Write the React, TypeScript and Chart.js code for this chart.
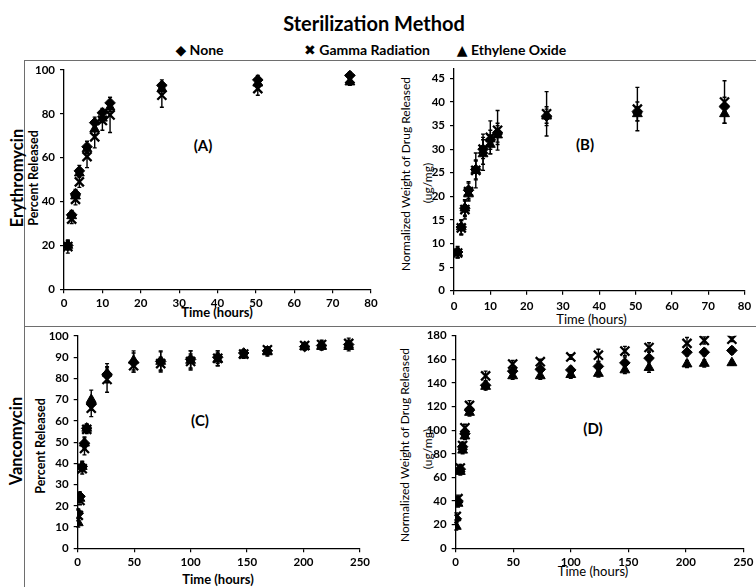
import React, { useEffect, useRef } from "react";
import { Chart, registerables } from "chart.js";

Chart.register(...registerables);

const FONT = "Lato, 'DejaVu Sans', sans-serif";
const PAGE_W = 756;
const PAGE_H = 587;

// ---------- Erythromycin ----------
const eryHours = [1, 2, 3, 4, 6, 8, 10, 12, 25.5, 50.5, 74.5];

// (A) Percent released
const eryPctNone = [20, 34, 43.5, 54, 65, 76, 80.5, 85, 93, 95.5, 97.5];
const eryPctGamma = [19.5, 32, 41, 49, 60.5, 69.5, 77, 79.5, 88.5, 91.5, 96];
const eryPctEO = [20, 33.5, 42.5, 53, 64, 73, 78, 83, 91.5, 94, 94.5];
const eryPctErrNone = [2, 2, 2, 2.5, 2.5, 2.5, 2, 2.5, 2.5, 2, 1.5];
const eryPctErrGamma = [3, 2, 2.5, 2.5, 5, 5, 4.5, 8, 5.5, 3, 2];
const eryPctErrEO = [2, 2, 2, 2, 2, 2.5, 2, 2, 2.5, 2, 1.5];

// (B) Normalized weight released (ug/mg)
const eryWtNone = [8.2, 13.5, 17.5, 21.3, 25.7, 30, 32, 33.5, 37, 38, 39];
const eryWtGamma = [8, 13.3, 17.2, 21, 25.5, 30, 32.5, 34, 37.5, 38.5, 40];
const eryWtEO = [8, 13.5, 17.5, 20.5, 25.5, 29, 31, 33, 37, 37.5, 37.5];
const eryWtErrNone = [1.2, 1.5, 1.5, 1.8, 2, 2, 2, 2, 2, 2, 2];
const eryWtErrGamma = [1, 1.5, 2, 1.8, 3.7, 3.2, 3.5, 4.2, 4.7, 4.6, 4.5];
const eryWtErrEO = [1, 1.5, 1.8, 1.5, 2, 3.5, 2, 2, 1.5, 1.5, 2];

// ---------- Vancomycin ----------
const vanHours = [0.5, 2, 4, 6, 8, 12, 26, 49.5, 73.5, 100, 124, 147, 168, 201, 216, 240];

// (C) Percent released
const vanPctNone = [16.5, 24.5, 38.5, 49.5, 56.5, 68, 82, 87.5, 88, 89, 90, 92, 93, 95, 95.5, 96];
const vanPctGamma = [15.5, 22.5, 37.5, 47, 56, 66, 79.5, 86, 87, 88, 89.5, 91.5, 93.5, 95.5, 96, 96.5];
const vanPctEO = [12, 23.5, 38.5, 49.5, 56.5, 70, 82.5, 88.5, 88, 88.5, 89, 91, 92.5, 95, 95, 95];
const vanPctErrNone = [2, 2, 2.5, 3, 2, 3, 3, 4.5, 4.5, 4, 3, 1.5, 2, 1.5, 2, 2];
const vanPctErrGamma = [2.5, 2, 2.5, 3, 2, 4, 6, 3, 3, 3.5, 3.5, 1.5, 1.5, 1.5, 2, 2.5];
const vanPctErrEO = [2, 2, 2, 2.5, 2, 4.5, 4.5, 4.5, 5, 4.5, 3, 1.5, 2, 1.5, 1.5, 2];

// (D) Normalized weight released (ug/mg)
const vanWtNone = [25, 40, 67, 86, 97, 117, 138, 150, 151.5, 151, 154, 157, 161, 166, 166, 167.5];
const vanWtGamma = [27, 42, 68, 87, 102, 121, 146, 156, 158, 162, 163.5, 167, 170, 173.5, 176, 177];
const vanWtEO = [18.5, 38, 65, 83, 95, 115, 137, 146, 146, 147, 148, 151, 153, 156, 156.5, 157];
const vanWtErrNone = [3, 3, 3, 3, 3, 3, 3, 3, 2.5, 3, 4, 5, 6, 3, 3, 3];
const vanWtErrGamma = [3, 3, 3, 3, 3, 4, 4, 3, 2, 2, 5, 4, 4, 5, 3, 2];
const vanWtErrEO = [3, 3, 3, 3, 3, 3, 3, 3, 3, 3, 3, 3, 4, 3, 3, 2];

// ---------- Axis settings ----------
const eryXTicks = { max: 80, step: 10 };
const vanXTicks = { max: 250, step: 50 };
const pctAYTicks = { max: 100, step: 20 };
const wtBYTicks = { max: 47, step: 5 };
const pctCYTicks = { max: 100, step: 10 };
const wtDYTicks = { max: 180, step: 20 };

interface Area { left: number; top: number; right: number; bottom: number }
interface PanelCfg {
  hours: number[];
  series: { values: number[]; errors: number[]; kind: "none" | "gamma" | "eo" }[];
  xt: { max: number; step: number };
  yt: { max: number; step: number };
  area: Area;
  xLabelPad: number;
}

const panels: PanelCfg[] = [
  {
    hours: eryHours,
    series: [
      { values: eryPctNone, errors: eryPctErrNone, kind: "none" },
      { values: eryPctGamma, errors: eryPctErrGamma, kind: "gamma" },
      { values: eryPctEO, errors: eryPctErrEO, kind: "eo" },
    ],
    xt: eryXTicks,
    yt: pctAYTicks,
    area: { left: 64, top: 70, right: 371, bottom: 289.3 },
    xLabelPad: 3.5,
  },
  {
    hours: eryHours,
    series: [
      { values: eryWtNone, errors: eryWtErrNone, kind: "none" },
      { values: eryWtGamma, errors: eryWtErrGamma, kind: "gamma" },
      { values: eryWtEO, errors: eryWtErrEO, kind: "eo" },
    ],
    xt: eryXTicks,
    yt: wtBYTicks,
    area: { left: 454, top: 69, right: 744.5, bottom: 290.7 },
    xLabelPad: 4.5,
  },
  {
    hours: vanHours,
    series: [
      { values: vanPctNone, errors: vanPctErrNone, kind: "none" },
      { values: vanPctGamma, errors: vanPctErrGamma, kind: "gamma" },
      { values: vanPctEO, errors: vanPctErrEO, kind: "eo" },
    ],
    xt: vanXTicks,
    yt: pctCYTicks,
    area: { left: 77.7, top: 336, right: 360, bottom: 548.3 },
    xLabelPad: 2.6,
  },
  {
    hours: vanHours,
    series: [
      { values: vanWtNone, errors: vanWtErrNone, kind: "none" },
      { values: vanWtGamma, errors: vanWtErrGamma, kind: "gamma" },
      { values: vanWtEO, errors: vanWtErrEO, kind: "eo" },
    ],
    xt: vanXTicks,
    yt: wtDYTicks,
    area: { left: 455.7, top: 335.7, right: 746.3, bottom: 548.3 },
    xLabelPad: 2.6,
  },
];

const markerStyle: Record<string, any> = {
  none: { pointStyle: "rectRot", pointRadius: 5.3, backgroundColor: "#000", borderColor: "#000", borderWidth: 1 },
  gamma: { pointStyle: "crossRot", pointRadius: 6.4, backgroundColor: "#000", borderColor: "#000", borderWidth: 2.3 },
  eo: { pointStyle: "triangle", pointRadius: 5.7, backgroundColor: "#000", borderColor: "#000", borderWidth: 1 },
};

const errorBars = {
  id: "errorBars",
  beforeDatasetsDraw(chart: any) {
    const ctx = chart.ctx;
    const xs = chart.scales.x;
    const ys = chart.scales.y;
    ctx.save();
    ctx.strokeStyle = "#000";
    ctx.lineWidth = 1.4;
    chart.data.datasets.forEach((ds: any) => {
      ds.data.forEach((p: any) => {
        const x = xs.getPixelForValue(p.x);
        const yTop = ys.getPixelForValue(p.y + p.e);
        const yBot = ys.getPixelForValue(p.y - p.e);
        ctx.beginPath();
        ctx.moveTo(x, yTop);
        ctx.lineTo(x, yBot);
        ctx.moveTo(x - 2, yTop);
        ctx.lineTo(x + 2, yTop);
        ctx.moveTo(x - 2, yBot);
        ctx.lineTo(x + 2, yBot);
        ctx.stroke();
      });
    });
    ctx.restore();
  },
};

function PanelChart({ cfg }: { cfg: PanelCfg }) {
  const ref = useRef<HTMLCanvasElement>(null);
  useEffect(() => {
    const { area } = cfg;
    const datasets = cfg.series.map((s) => ({
      label: s.kind,
      data: s.values.map((v, i) => ({ x: cfg.hours[i], y: v, e: s.errors[i] })),
      showLine: false,
      ...markerStyle[s.kind],
    }));
    const tickFont = { family: FONT, size: 11.5, weight: "bold" as const };
    const chart = new Chart(ref.current as HTMLCanvasElement, {
      type: "scatter",
      data: { datasets },
      options: {
        animation: false,
        responsive: false,
        devicePixelRatio: window.devicePixelRatio || 1,
        layout: {
          padding: { left: 0, top: area.top, right: PAGE_W - area.right, bottom: 0 },
        },
        plugins: { legend: { display: false }, tooltip: { enabled: false } },
        events: [],
        scales: {
          x: {
            type: "linear",
            min: 0,
            max: cfg.xt.max,
            ticks: { stepSize: cfg.xt.step, color: "#000", font: tickFont, padding: cfg.xLabelPad, maxRotation: 0 },
            grid: { display: true, drawOnChartArea: false, drawTicks: true, tickLength: 4, color: "#000", tickColor: "#000", lineWidth: 1.2 },
            border: { display: true, color: "#000", width: 1.3 },
            afterFit: (s: any) => {
              s.height = PAGE_H - area.bottom;
            },
          },
          y: {
            type: "linear",
            min: 0,
            max: cfg.yt.max,
            ticks: { stepSize: cfg.yt.step, color: "#000", font: tickFont, padding: 5, includeBounds: false },
            grid: { display: true, drawOnChartArea: false, drawTicks: true, tickLength: 4, color: "#000", tickColor: "#000", lineWidth: 1.2 },
            border: { display: true, color: "#000", width: 1.3 },
            afterFit: (s: any) => {
              s.width = area.left;
            },
          },
        },
      } as any,
      plugins: [errorBars],
    });
    return () => chart.destroy();
  }, [cfg]);
  return (
    <canvas
      ref={ref}
      width={PAGE_W}
      height={PAGE_H}
      style={{ position: "absolute", left: 0, top: 0, width: PAGE_W, height: PAGE_H, pointerEvents: "none" }}
    />
  );
}

function Txt({
  x, y, size, bold, rotate, children,
}: { x: number; y: number; size: number; bold?: boolean; rotate?: boolean; children: React.ReactNode }) {
  return (
    <div
      style={{
        position: "absolute",
        left: x,
        top: y,
        transform: `translate(-50%, -50%)${rotate ? " rotate(-90deg)" : ""}`,
        fontFamily: FONT,
        fontSize: size,
        fontWeight: bold ? 700 : 400,
        whiteSpace: "nowrap",
        lineHeight: 1,
        color: "#000",
      }}
    >
      {children}
    </div>
  );
}

function Line({ x, y, w, h }: { x: number; y: number; w: number; h: number }) {
  return <div style={{ position: "absolute", left: x, top: y, width: w, height: h, background: "#6e6e6e" }} />;
}

export default function App() {
  useEffect(() => {
    document.body.style.margin = "0";
  }, []);
  return (
    <div style={{ position: "relative", width: PAGE_W, height: PAGE_H, overflow: "hidden", background: "#fff" }}>
      <Txt x={374} y={23} size={20} bold>Sterilization Method</Txt>
      <Txt x={199.5} y={50} size={14} bold>◆ None</Txt>
      <Txt x={367} y={50} size={14} bold>✖ Gamma Radiation</Txt>
      <Txt x={511.5} y={50} size={14} bold>▲ Ethylene Oxide</Txt>

      <Line x={24} y={59.5} w={PAGE_W - 24} h={1.5} />
      <Line x={24} y={325.5} w={PAGE_W - 24} h={1.5} />
      <Line x={23.5} y={59.5} w={1.5} h={PAGE_H - 59.5} />

      <Txt x={16.5} y={178} size={16.5} bold rotate>Erythromycin</Txt>
      <Txt x={16} y={441} size={16.5} bold rotate>Vancomycin</Txt>

      <Txt x={34} y={178} size={12.5} bold rotate>Percent Released</Txt>
      <Txt x={41} y={446} size={12.5} bold rotate>Percent Released</Txt>

      <Txt x={405.5} y={174} size={12} rotate>Normalized Weight of Drug Released</Txt>
      <Txt x={428} y={183} size={12} rotate>(ug/mg)</Txt>
      <Txt x={405} y={445} size={12} rotate>Normalized Weight of Drug Released</Txt>
      <Txt x={428} y={449} size={12} rotate>(ug/mg)</Txt>

      <Txt x={217} y={312} size={13} bold>Time (hours)</Txt>
      <Txt x={591.5} y={319} size={13}>Time (hours)</Txt>
      <Txt x={218} y={579} size={13} bold>Time (hours)</Txt>
      <Txt x={593} y={571} size={13}>Time (hours)</Txt>

      <Txt x={203} y={145} size={15} bold>(A)</Txt>
      <Txt x={585} y={144} size={15} bold>(B)</Txt>
      <Txt x={200} y={420} size={15} bold>(C)</Txt>
      <Txt x={593} y={428} size={15} bold>(D)</Txt>

      {panels.map((p, i) => (
        <PanelChart key={i} cfg={p} />
      ))}
    </div>
  );
}
